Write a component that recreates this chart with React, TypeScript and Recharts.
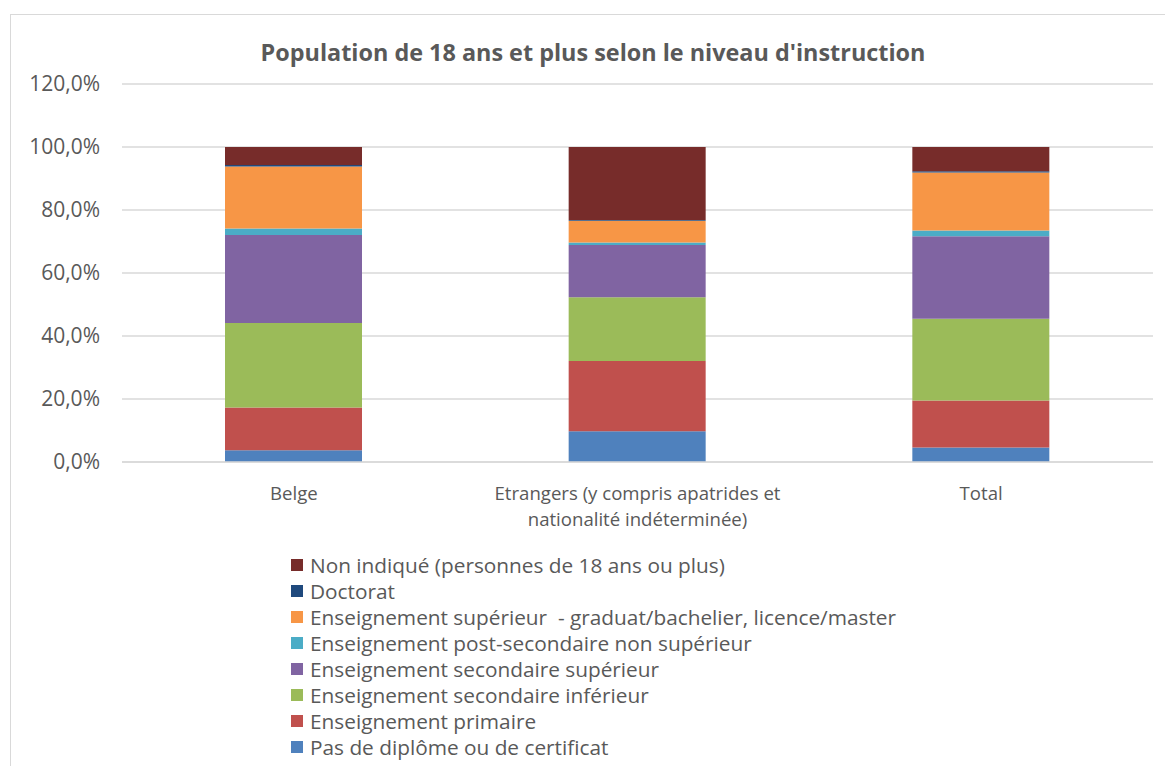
import React from "react";
import { BarChart, Bar, XAxis, YAxis, CartesianGrid } from "recharts";

const categories = ["Belge", "Etrangers (y compris apatrides et nationalité indéterminée)", "Total"];
const categoryLines = [["Belge"], ["Etrangers (y compris apatrides et", "nationalité indéterminée)"], ["Total"]];

const seriesNames = [
  "Pas de diplôme ou de certificat",
  "Enseignement primaire",
  "Enseignement secondaire inférieur",
  "Enseignement secondaire supérieur",
  "Enseignement post-secondaire non supérieur",
  "Enseignement supérieur  - graduat/bachelier, licence/master",
  "Doctorat",
  "Non indiqué (personnes de 18 ans ou plus)",
];
const seriesColors = ["#4F81BD", "#C0504D", "#9BBB59", "#8064A2", "#4BACC6", "#F79646", "#1F497D", "#772C2A"];

const pasDeDiplome = [3.7, 9.8, 4.6];
const primaire = [13.6, 22.3, 14.9];
const secondaireInferieur = [26.8, 20.2, 26.0];
const secondaireSuperieur = [28.0, 16.6, 26.2];
const postSecondaire = [2.0, 0.8, 1.8];
const superieur = [19.7, 6.9, 18.4];
const doctorat = [0.5, 0.2, 0.4];
const nonIndique = [5.7, 23.2, 7.7];

const seriesValues = [pasDeDiplome, primaire, secondaireInferieur, secondaireSuperieur, postSecondaire, superieur, doctorat, nonIndique];
const yTicks = [0, 20, 40, 60, 80, 100, 120];
const title = "Population de 18 ans et plus selon le niveau d'instruction";

const data = categories.map((c, i) => {
  const row: any = { name: c, idx: i };
  seriesValues.forEach((vals, s) => {
    row["s" + s] = vals[i];
  });
  return row;
});

const FONT = "'Open Sans', 'Noto Sans', sans-serif";
const TEXT = "#595959";

const XTick = (props: any) => {
  const { x, y, payload } = props;
  const lines = categoryLines[payload.index] || [payload.value];
  return (
    <g>
      {lines.map((l: string, k: number) => (
        <text key={k} x={x} y={y + 36 + k * 26} textAnchor="middle" fill={TEXT} fontSize={18.6} fontFamily={FONT}>
          {l}
        </text>
      ))}
    </g>
  );
};

const fmt = (v: number) => v.toFixed(1).replace(".", ",") + "%";

export default function App() {
  const legendOrder = seriesNames.map((n, i) => i).reverse();
  return (
    <div style={{ position: "absolute", left: 0, top: 0, width: 1165, height: 766, background: "#fff", overflow: "hidden" }}>
      <div style={{ position: "absolute", left: 10, top: 14, width: 1180, height: 800, border: "1px solid #d9d9d9", boxSizing: "border-box" }} />
      <div style={{ position: "absolute", left: 0, top: 0 }}>
        <BarChart width={1165} height={766} data={data} margin={{ top: 84, right: 12, left: 0, bottom: 244 }} barSize={137}>
          <CartesianGrid vertical={false} stroke="#d9d9d9" strokeWidth={1.5} />
          <XAxis dataKey="name" tick={<XTick />} tickLine={false} axisLine={{ stroke: "#d9d9d9", strokeWidth: 1.5 }} height={60} tickSize={0} interval={0} />
          <YAxis
            domain={[0, 120]}
            ticks={yTicks}
            tickFormatter={fmt}
            axisLine={false}
            tickLine={false}
            tickSize={0}
            tickMargin={22}
            width={122}
            tick={{ fill: TEXT, fontSize: 21, fontFamily: FONT }}
          />
          {seriesNames.map((n, s) => (
            <Bar key={s} dataKey={"s" + s} name={n} stackId="a" fill={seriesColors[s]} isAnimationActive={false} />
          ))}
          <text x={593} y={61} textAnchor="middle" fill={TEXT} fontSize={23.4} fontWeight="bold" fontFamily={FONT}>
            {title}
          </text>
        </BarChart>
      </div>
      <div style={{ position: "absolute", left: 291, top: 552, fontFamily: FONT, fontSize: 20.8, color: TEXT }}>
        {legendOrder.map((s) => (
          <div key={s} style={{ display: "flex", alignItems: "center", height: 26, whiteSpace: "pre" }}>
            <span style={{ display: "inline-block", width: 12, height: 12, background: seriesColors[s], marginRight: 7 }} />
            <span>{seriesNames[s]}</span>
          </div>
        ))}
      </div>
    </div>
  );
}
